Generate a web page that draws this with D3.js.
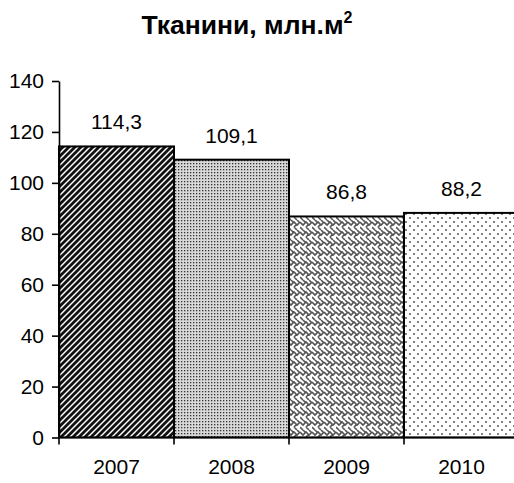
<!DOCTYPE html>
<html>
<head>
<meta charset="utf-8">
<script src="https://cdn.jsdelivr.net/npm/d3@7"></script>
<style>
  body { margin: 0; background: #fff; }
  svg { display: block; font-family: Arial, "Liberation Sans", sans-serif; }
  .axis path, .axis line { stroke: #000; stroke-width: 1.6px; }
  .axis text { font-size: 21px; fill: #000; }
</style>
</head>
<body>
<div id="chart"></div>
<script>
// data
var years = ["2007", "2008", "2009", "2010"]
var values = [114.3, 109.1, 86.8, 88.2]
var valueLabels = ["114,3", "109,1", "86,8", "88,2"]
var yTicks = [0, 20, 40, 60, 80, 100, 120, 140]
var patternIds = ["stripes", "finedots", "weave", "sparsedots"]

var width = 514, height = 483

var svg = d3.select("#chart").append("svg")
  .attr("width", width)
  .attr("height", height)

var defs = svg.append("defs")

// dark diagonal stripes
var p1 = defs.append("pattern").attr("id", "stripes")
  .attr("patternUnits", "userSpaceOnUse").attr("width", 6).attr("height", 6)
p1.append("rect").attr("width", 6).attr("height", 6).attr("fill", "#fff")
p1.append("path").attr("d", "M-1,1 L1,-1 M0,6 L6,0 M5,7 L7,5")
  .attr("stroke", "#111").attr("stroke-width", 2.8)

// fine dotted grey
var p2 = defs.append("pattern").attr("id", "finedots")
  .attr("patternUnits", "userSpaceOnUse").attr("width", 3).attr("height", 3)
p2.append("rect").attr("width", 3).attr("height", 3).attr("fill", "#d8d8d8")
p2.append("rect").attr("x", 1).attr("y", 1).attr("width", 1.3).attr("height", 1.3).attr("fill", "#333")

// weave / zigzag
var p3 = defs.append("pattern").attr("id", "weave")
  .attr("patternUnits", "userSpaceOnUse").attr("width", 12).attr("height", 10)
p3.append("rect").attr("width", 12).attr("height", 10).attr("fill", "#fff")
p3.append("path")
  .attr("d", "M0,2 L3,5 L6,2 L9,5 L12,2 M0,7 L3,10 M3,0 L6,3 M6,7 L9,10 M9,0 L12,3 M0,-3 L3,0 M6,7 L9,4")
  .attr("fill", "none").attr("stroke", "#555").attr("stroke-width", 1.6)

// sparse dots
var p4 = defs.append("pattern").attr("id", "sparsedots")
  .attr("patternUnits", "userSpaceOnUse").attr("width", 8).attr("height", 8)
p4.append("rect").attr("width", 8).attr("height", 8).attr("fill", "#fff")
p4.append("circle").attr("cx", 2).attr("cy", 2).attr("r", 0.9).attr("fill", "#444")
p4.append("circle").attr("cx", 6).attr("cy", 6).attr("r", 0.9).attr("fill", "#444")

var x = d3.scaleBand()
  .domain(years)
  .range([59, 519])
  .padding(0)

var y = d3.scaleLinear()
  .domain([0, 140])
  .range([437.5, 81])

// title
var title = svg.append("text")
  .attr("x", 247)
  .attr("y", 34)
  .attr("text-anchor", "middle")
  .style("font-size", "26.5px")
  .style("font-weight", "bold")
  .text("Тканини, млн.м")
title.append("tspan")
  .attr("dy", -11)
  .style("font-size", "16px")
  .text("2")

// bars
svg.selectAll(".bar")
  .data(years)
  .enter().append("rect")
  .attr("class", "bar")
  .attr("x", function(d) { return x(d) })
  .attr("y", function(d, i) { return y(values[i]) })
  .attr("width", x.bandwidth())
  .attr("height", function(d, i) { return y(0) - y(values[i]) })
  .attr("fill", function(d, i) { return "url(#" + patternIds[i] + ")" })
  .attr("stroke", "#000")
  .attr("stroke-width", 2)

// value labels
svg.selectAll(".val")
  .data(years)
  .enter().append("text")
  .attr("class", "val")
  .attr("x", function(d) { return x(d) + x.bandwidth() / 2 })
  .attr("y", function(d, i) { return y(values[i]) - 17 })
  .attr("text-anchor", "middle")
  .style("font-size", "21px")
  .text(function(d, i) { return valueLabels[i] })

// y axis
svg.append("g")
  .attr("class", "axis")
  .attr("transform", "translate(59,0)")
  .call(d3.axisLeft(y).tickValues(yTicks).tickSize(7).tickSizeOuter(0).tickPadding(8))

// x axis: labels at centre, ticks at band edges
var xAxis = svg.append("g")
  .attr("class", "axis")
  .attr("transform", "translate(0," + y(0) + ")")
  .call(d3.axisBottom(x).tickSize(0).tickSizeOuter(0).tickPadding(22))
xAxis.select(".domain").attr("d", "M59,0H514")
xAxis.selectAll(".edge")
  .data(years)
  .enter().append("line")
  .attr("class", "edge")
  .attr("x1", function(d) { return x(d) })
  .attr("x2", function(d) { return x(d) })
  .attr("y1", 0)
  .attr("y2", 7)
</script>
</body>
</html>
